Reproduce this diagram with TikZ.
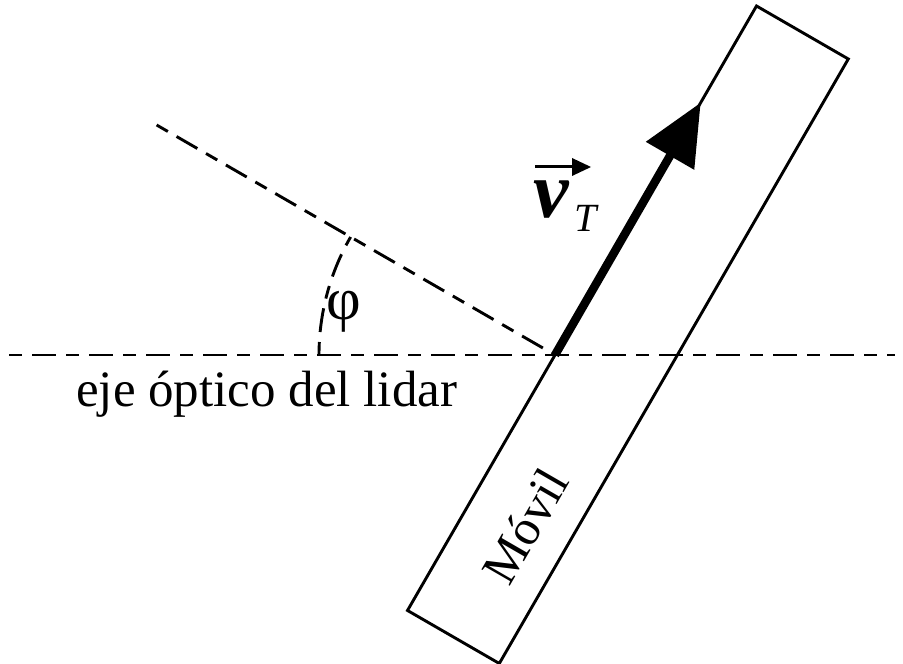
\documentclass[tikz,border=0pt]{standalone}
\usepackage{fontspec}
\setmainfont{Liberation Serif}
\usetikzlibrary{calc}
\begin{document}
\begin{tikzpicture}[x=1pt,y=1pt,
  dashline/.style={line width=2.9pt, dash pattern=on 13pt off 10pt on 24pt off 10pt},
  frame/.style={line width=2.9pt, line join=miter},
  txt/.style={inner sep=0pt}]
\useasboundingbox (0,0) rectangle (903,664);
% optical axis and angle
\coordinate (O) at (555,309);
\coordinate (H1) at (9,309);
\coordinate (H2) at (895,309);
\coordinate (R) at ($(O)+(150:460)$);
\coordinate (A1) at ($(O)+(180:236)$);
\draw[dashline] (H1) -- (H2);
\draw[dashline] (R) -- (O);
\draw[dashline] (A1) arc[start angle=180, end angle=150, radius=236];
% moving body
\coordinate (cL) at ($(O)+(240:295)$);
\coordinate (cT) at ($(O)+(60:403)$);
\coordinate (cTr) at ($(cT)+(-30:106)$);
\coordinate (cLr) at ($(cL)+(-30:106)$);
\draw[frame] (cL) -- (cT) -- (cTr) -- (cLr) -- cycle;
% velocity vector
\coordinate (tip) at ($(O)+(60:291)$);
\coordinate (B) at ($(O)+(60:230)$);
\coordinate (Bs) at ($(O)+(60:236)$);
\draw[line width=8.5pt] (O) -- (Bs);
\fill (tip) -- ($(B)+(150:28)$) -- ($(B)+(-30:28)$) -- cycle;
% labels
\node[txt, anchor=base west, font=\fontsize{51}{60}\selectfont] (eje) at (76,257) {eje óptico del lidar};
\node[txt, font=\fontsize{60}{70}\selectfont] (phi) at (344,352) {φ};
\node[txt, anchor=base west, font=\fontsize{80}{90}\selectfont\bfseries\itshape] (v) at (533,446) {v};
\node[txt, anchor=base west, font=\fontsize{40}{46}\selectfont\itshape] (sub) at (574,432) {T};
\coordinate (va) at (535,497);
\coordinate (vb) at (576,497);
\coordinate (vt) at (591,497);
\draw[line width=3pt] (va) -- (vb);
\fill (vt) -- ($(vt)+(-19,9)$) -- ($(vt)+(-19,-9)$) -- cycle;
\node[txt, rotate=60, font=\fontsize{50}{60}\selectfont] (mov) at (525,138) {Móvil};
\end{tikzpicture}
\end{document}
